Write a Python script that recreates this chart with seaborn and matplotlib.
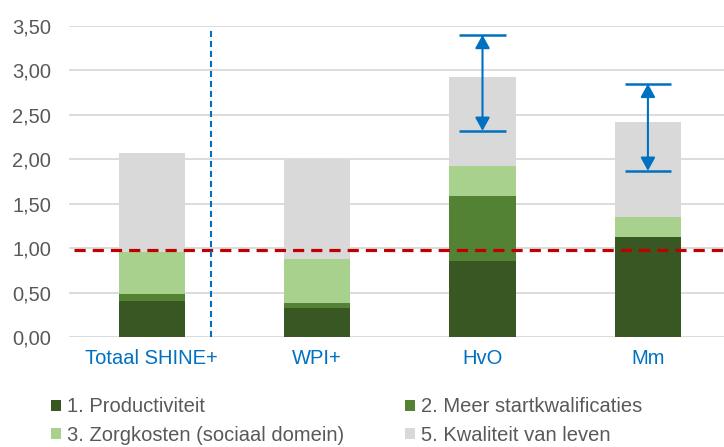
import numpy as np
import matplotlib
matplotlib.use("Agg")
import matplotlib.pyplot as plt
from matplotlib.patches import Patch
import seaborn as sns

# Data
categories = ["Totaal SHINE+", "WPI+", "HvO", "Mm"]
productiviteit = [0.40, 0.33, 0.86, 1.13]
startkwalificaties = [0.08, 0.05, 0.73, 0.00]
zorgkosten = [0.48, 0.50, 0.34, 0.22]
kwaliteit = [1.11, 1.12, 1.00, 1.07]
series_names = ["1. Productiviteit", "2. Meer startkwalificaties",
                "3. Zorgkosten (sociaal domein)", "5. Kwaliteit van leven"]

# ranges shown with arrows (HvO, Mm)
range_cats = [2, 3]
range_low = [2.32, 1.87]
range_high = [3.40, 2.85]

threshold = 0.98
ytick_values = [0.0, 0.5, 1.0, 1.5, 2.0, 2.5, 3.0, 3.5]
ytick_labels = ["0,00", "0,50", "1,00", "1,50", "2,00", "2,50", "3,00", "3,50"]

colors = ["#385723", "#548235", "#A9D18E", "#D9D9D9"]
blue = "#0070C0"
red = "#C00000"
grey_text = "#595959"

sns.set_style("white")
plt.rcParams["font.family"] = ["Liberation Sans", "DejaVu Sans"]
plt.rcParams["font.size"] = 14.5

fig = plt.figure(figsize=(7.24, 4.47), dpi=100)
ax = fig.add_axes([0.0953, 0.2461, 1 - 0.0953, 0.9418 - 0.2461])

# stacked bars: draw cumulative totals, tallest first
stack = np.array([productiviteit, startkwalificaties, zorgkosten, kwaliteit])
cum = np.cumsum(stack, axis=0)
for i in range(3, -1, -1):
    sns.barplot(x=categories, y=cum[i], color=colors[i], width=0.40,
                saturation=1, linewidth=0, edgecolor="none", ax=ax, zorder=2)

ax.set_xlim(-0.5, 3.46)
ax.set_ylim(0, 3.5)
ax.set_yticks(ytick_values)
ax.set_yticklabels(ytick_labels)
ax.yaxis.grid(True, color="#D9D9D9", lw=1.3)
ax.set_axisbelow(True)
sns.despine(ax=ax, left=True, bottom=True)
ax.tick_params(axis="y", length=0, pad=13, colors=grey_text, labelsize=14.5)
ax.tick_params(axis="x", length=0, pad=9, labelcolor=blue, labelsize=14.5)
ax.set_xlabel("")
ax.set_ylabel("")

# threshold line and divider
ax.hlines(threshold, -0.47, 3.46, colors=red, lw=2.3,
          linestyles=(0, (3.5, 2.2)), zorder=4)
ax.axvline(0.357, ymin=0.0, ymax=0.995, color=blue, lw=1.5,
           linestyle=(0, (2.9, 1.9)), zorder=4)

# range arrows with caps
for c, lo, hi in zip(range_cats, range_low, range_high):
    ax.annotate("", xy=(c, hi), xytext=(c, lo),
                arrowprops=dict(arrowstyle="<|-|>,head_length=0.4,head_width=0.22",
                                color=blue, lw=1.5, shrinkA=0, shrinkB=0,
                                mutation_scale=20), zorder=5)
    ax.hlines([lo, hi], c - 0.14, c + 0.14, colors=blue, lw=1.8, zorder=5)

# legend in two columns
handles = [Patch(facecolor=col, edgecolor="none") for col in colors]
leg_kw = dict(loc="center left", frameon=False, borderpad=0, borderaxespad=0,
              handlelength=0.5, handleheight=0.5, handletextpad=0.3,
              labelspacing=0.45, labelcolor=grey_text, fontsize=14.5)
fig.legend([handles[0], handles[2]], [series_names[0], series_names[2]],
           bbox_to_anchor=(51 / 724, 1 - 421 / 447), **leg_kw)
fig.legend([handles[1], handles[3]], [series_names[1], series_names[3]],
           bbox_to_anchor=(405 / 724, 1 - 421 / 447), **leg_kw)

fig.savefig("out.png", dpi=100)
